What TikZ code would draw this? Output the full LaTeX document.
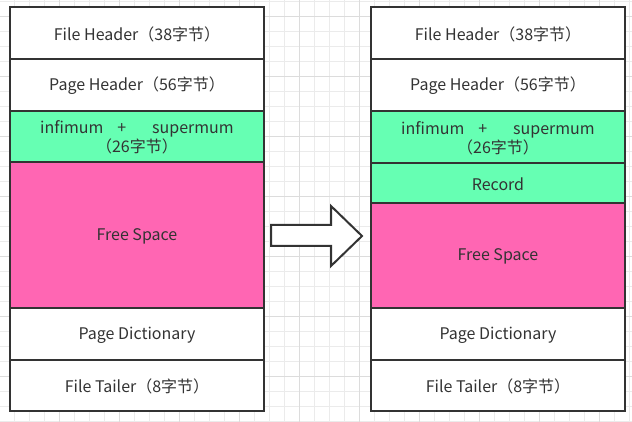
\documentclass[tikz,border=0pt]{standalone}
\usepackage{fontspec}
\setmainfont{Noto Sans CJK SC}
\definecolor{gridminor}{HTML}{EBEBEB}
\definecolor{gridmajor}{HTML}{DCDCDC}
\definecolor{edge}{HTML}{333333}
\definecolor{mint}{HTML}{66FFB3}
\definecolor{rose}{HTML}{FF66B3}
\tikzset{
  cell/.style={draw=edge, line width=2pt, minimum width=254pt, inner sep=0pt,
    text=edge, font=\fontsize{16pt}{20pt}\selectfont, align=center, fill=white},
  greencell/.style={cell, fill=mint},
  pinkcell/.style={cell, fill=rose},
  lbl/.style={text=edge, font=\fontsize{16pt}{20pt}\selectfont, align=center, inner sep=0pt},
}
\begin{document}
\begin{tikzpicture}[x=1pt,y=-1pt]
\useasboundingbox (0,0) rectangle (632,422);
\fill[white] (0,0) rectangle (632,422);
% grid
\foreach \i in {0,...,42} {
  \draw[gridminor, line width=0.8pt] (14.3+15*\i,0) -- (14.3+15*\i,422);
}
\foreach \j in {0,...,28} {
  \draw[gridminor, line width=0.8pt] (0,1+15*\j) -- (632,1+15*\j);
}
\foreach \i in {-1,...,10} {
  \draw[gridmajor, line width=0.8pt] (59.3+60*\i,0) -- (59.3+60*\i,422);
}
\foreach \j in {0,...,7} {
  \draw[gridmajor, line width=0.8pt] (0,16+60*\j) -- (632,16+60*\j);
}
% left column
\node[cell, minimum height=52pt] (l1) at (137,33) {};
\node[cell, minimum height=52pt] (l2) at (137,85) {};
\node[greencell, minimum height=51pt] (l3) at (137,136.5) {};
\node[pinkcell, minimum height=146pt] (l4) at (137,235) {};
\node[cell, minimum height=52pt] (l5) at (137,334) {};
\node[cell, minimum height=51pt] (l6) at (137,385.5) {};
% right column
\node[cell, minimum height=52pt] (r1) at (498,33) {};
\node[cell, minimum height=52pt] (r2) at (498,85) {};
\node[greencell, minimum height=52pt] (r3) at (498,137) {};
\node[greencell, minimum height=40pt] (r4) at (498,183) {};
\node[pinkcell, minimum height=105pt] (r5) at (498,255.5) {};
\node[cell, minimum height=52pt] (r6) at (498,334) {};
\node[cell, minimum height=51pt] (r7) at (498,385.5) {};
% labels
\foreach \c in {l,r} {
  \node[lbl] at ([yshift=-1pt]\c1.center) {File Header（38字节）};
  \node[lbl] at ([yshift=-1pt]\c2.center) {Page Header（56字节）};
}
\node[lbl] at ([yshift=-1pt]l3.center) {infimum\hspace{14pt}+\hspace{26pt}supermum\\[-1pt]（26字节）};
\node[lbl] at ([yshift=-1pt]r3.center) {infimum\hspace{14pt}+\hspace{26pt}supermum\\[-1pt]（26字节）};
\node[lbl] at ([yshift=-1pt]r4.center) {Record};
\node[lbl] at ([yshift=-1pt]l4.center) {Free Space};
\node[lbl] at ([yshift=-1pt]r5.center) {Free Space};
\node[lbl] at ([yshift=-1pt]l5.center) {Page Dictionary};
\node[lbl] at ([yshift=-1pt]r6.center) {Page Dictionary};
\node[lbl] at ([yshift=-1pt]l6.center) {File Tailer（8字节）};
\node[lbl] at ([yshift=-1pt]r7.center) {File Tailer（8字节）};
% block arrow
\draw[edge, line width=2pt, fill=white, line join=miter]
  (271,225) -- (331,225) -- (331,206) -- (362,236) -- (331,266) -- (331,246) -- (271,246) -- cycle;
\end{tikzpicture}
\end{document}
